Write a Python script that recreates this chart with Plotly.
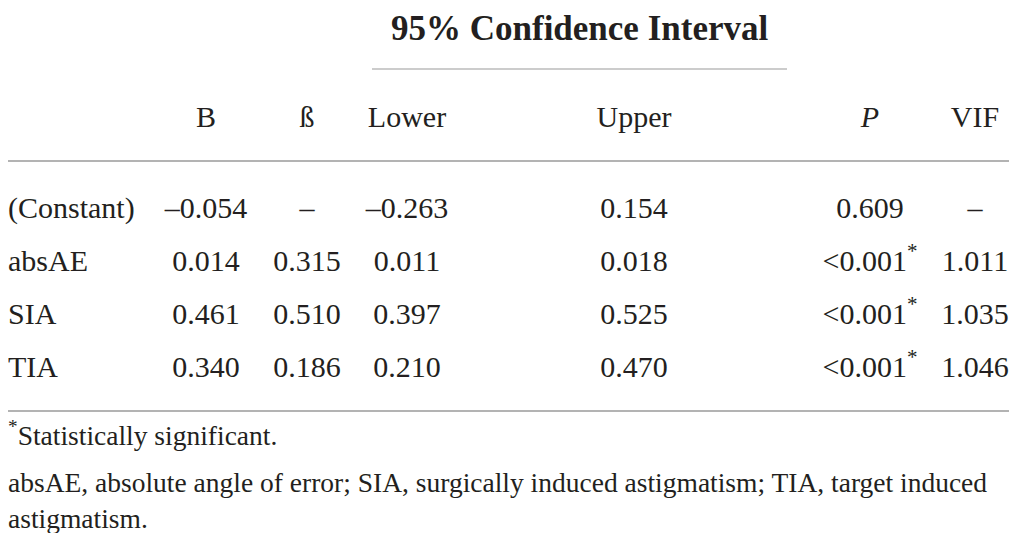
import plotly.graph_objects as go

# ---------------------------------------------------------------------------
# Table contents
# ---------------------------------------------------------------------------
TITLE = "95% Confidence Interval"
HEADERS = ["B", "ß", "Lower", "Upper", "<i>P</i>", "VIF"]
VARIABLES = ["(Constant)", "absAE", "SIA", "TIA"]
B_VALS = ["–0.054", "0.014", "0.461", "0.340"]
BETA_VALS = ["–", "0.315", "0.510", "0.186"]
LOWER_VALS = ["–0.263", "0.011", "0.397", "0.210"]
UPPER_VALS = ["0.154", "0.018", "0.525", "0.470"]
P_VALS = ["0.609", "<0.001<sup>*</sup>", "<0.001<sup>*</sup>", "<0.001<sup>*</sup>"]
VIF_VALS = ["–", "1.011", "1.035", "1.046"]
FOOTNOTES = [
    "<sup>*</sup>Statistically significant.",
    "absAE, absolute angle of error; SIA, surgically induced astigmatism; TIA, target induced",
    "astigmatism.",
]

# ---------------------------------------------------------------------------
# Layout -- coordinates are page pixels; the page body adds an 8px margin
# on every side, so the figure covers page x 8..1009 and y 8..533
# ---------------------------------------------------------------------------
PAGE_W, PAGE_H, OFFSET = 1017, 541, 8
FONT = "Liberation Serif, Times New Roman, serif"
INK = "#231f20"
RULE = "#9a9a9a"
BODY_SIZE = 30
FOOT_SIZE = 27.5

LEFT_X = 8
RIGHT_X = PAGE_W - OFFSET
COL_X = [206, 307, 407, 634, 870, 975]
HEADER_Y = 119
ROW_Y = [210, 263, 316, 369]
FOOT_Y = [438, 485, 521]

fig = go.Figure()

# first column, left aligned
fig.add_trace(go.Scatter(
    x=[LEFT_X] * len(VARIABLES), y=ROW_Y, text=VARIABLES,
    mode="text", textposition="middle right", cliponaxis=False,
    textfont=dict(family=FONT, size=BODY_SIZE, color=INK),
    hoverinfo="skip",
))

columns = [B_VALS, BETA_VALS, LOWER_VALS, UPPER_VALS, P_VALS, VIF_VALS]
for cx, head, vals in zip(COL_X, HEADERS, columns):
    fig.add_trace(go.Scatter(
        x=[cx] * (len(vals) + 1), y=[HEADER_Y] + ROW_Y, text=[head] + vals,
        mode="text", textposition="middle center", cliponaxis=False,
        textfont=dict(family=FONT, size=BODY_SIZE, color=INK),
        hoverinfo="skip",
    ))

# footnotes
fig.add_trace(go.Scatter(
    x=[LEFT_X] * len(FOOTNOTES), y=FOOT_Y, text=FOOTNOTES,
    mode="text", textposition="middle right", cliponaxis=False,
    textfont=dict(family=FONT, size=FOOT_SIZE, color=INK),
    hoverinfo="skip",
))

# spanning title, hung from the top edge of the figure
fig.add_annotation(
    x=579, y=OFFSET, xref="x", yref="y", yanchor="top",
    text=f"<b>{TITLE}</b>", showarrow=False,
    font=dict(family=FONT, size=35, color=INK), borderpad=0,
)

# rules
fig.add_shape(type="line", x0=372, x1=787, y0=69, y1=69, xref="x", yref="y",
              line=dict(color=RULE, width=1.2))
for yy in [161, 411]:
    fig.add_shape(type="line", x0=LEFT_X, x1=RIGHT_X, y0=yy, y1=yy, xref="x", yref="y",
                  line=dict(color=RULE, width=1.5))

fig.update_layout(
    width=PAGE_W - 2 * OFFSET, height=PAGE_H - 2 * OFFSET,
    margin=dict(l=0, r=0, t=0, b=0),
    showlegend=False,
    plot_bgcolor="white",
    paper_bgcolor="white",
    xaxis=dict(range=[OFFSET, RIGHT_X], visible=False, fixedrange=True),
    yaxis=dict(range=[PAGE_H - OFFSET, OFFSET], visible=False, fixedrange=True),
)

fig.write_html("out.html")
